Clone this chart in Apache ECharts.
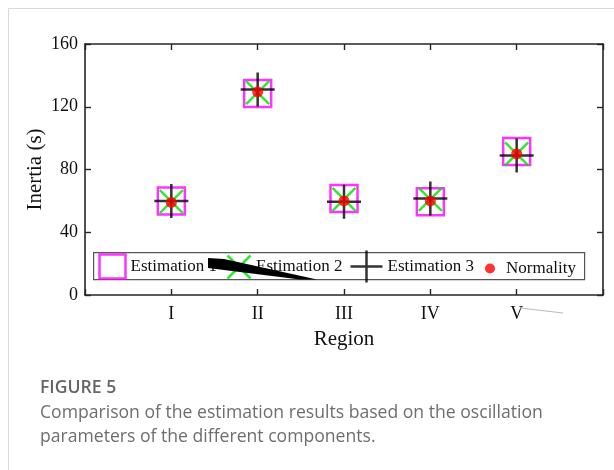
<!DOCTYPE html>
<html>
<head>
<meta charset="utf-8">
<script src="https://cdn.jsdelivr.net/npm/echarts@6/dist/echarts.min.js"></script>
<style>
  html, body { margin: 0; padding: 0; background: #fff; }
  #chart { width: 614px; height: 470px; }
</style>
</head>
<body>
<div id="chart"></div>
<script>
// data
const categories = ['I', 'II', 'III', 'IV', 'V'];
const estimation1 = [60, 128.5, 61.5, 59.5, 91.5];
const estimation2 = [59.5, 129, 61, 61, 90];
const estimation3 = [60, 131, 59.5, 61.5, 89];
const normality = [59, 129.5, 60, 60, 90];
const yMin = 0, yMax = 160, yStep = 40;

const serif = 'Liberation Serif';
const axisColor = '#262626';

function toPoints(arr) {
  return categories.map((c, i) => [i + 1, arr[i]]);
}

const crossPath = 'path://M0,0L10,10M10,0L0,10';
const plusPath = 'path://M5,0L5,10M0,5L10,5';

const chart = echarts.init(document.getElementById('chart'));

const boxAxis = {
  axisLine: { show: true, onZero: false, lineStyle: { color: axisColor, width: 1.6 } },
  axisTick: { show: true, inside: true, length: 6, lineStyle: { color: axisColor, width: 1.4 } },
  splitLine: { show: false },
};

const option = {
  animation: false,
  grid: { left: 85, top: 44, right: 11, bottom: 175 },
  xAxis: [
    Object.assign({
      type: 'value', min: 0, max: 6, interval: 1,
      name: 'Region', nameLocation: 'middle', nameGap: 34,
      nameTextStyle: { fontFamily: serif, fontSize: 21, color: '#111' },
      axisLabel: {
        margin: 10, fontFamily: serif, fontSize: 18, color: '#111',
        formatter: v => categories[v - 1] || ''
      }
    }, boxAxis),
    Object.assign({
      type: 'value', min: 0, max: 6, interval: 1, position: 'top',
      axisLabel: { show: false }
    }, boxAxis)
  ],
  yAxis: [
    Object.assign({
      type: 'value', min: yMin, max: yMax, interval: yStep,
      name: 'Inertia (s)', nameLocation: 'middle', nameGap: 39, nameMoveOverlap: false,
      nameTextStyle: { fontFamily: serif, fontSize: 21, color: '#111' },
      axisLabel: { margin: 7, fontFamily: serif, fontSize: 18, color: '#111' }
    }, boxAxis),
    Object.assign({
      type: 'value', min: yMin, max: yMax, interval: yStep, position: 'right',
      axisLabel: { show: false }
    }, boxAxis)
  ],
  legend: [
    {
      data: ['Estimation 1'], left: 97, top: 252, padding: 0,
      itemWidth: 26, itemHeight: 24, icon: 'rect',
      itemStyle: { color: 'none', borderColor: '#ff00ff', borderWidth: 2.5 },
      textStyle: { fontFamily: serif, fontSize: 17, color: '#111' }
    },
    {
      data: ['Estimation 2'], left: 225, top: 253, padding: 0,
      itemWidth: 24, itemHeight: 23, icon: crossPath,
      itemStyle: { color: 'none', borderColor: '#00e000', borderWidth: 2.5 },
      textStyle: { fontFamily: serif, fontSize: 17, color: '#111' }
    },
    {
      data: ['Estimation 3'], left: 348, top: 248, padding: 0,
      itemWidth: 32, itemHeight: 32, icon: plusPath,
      itemStyle: { color: 'none', borderColor: '#000', borderWidth: 2.5 },
      textStyle: { fontFamily: serif, fontSize: 17, color: '#111' }
    },
    {
      data: ['Normality'], left: 485, top: 260, padding: 0,
      itemWidth: 22, itemHeight: 10, icon: 'circle',
      itemStyle: { color: '#ff0000', borderWidth: 0 },
      textStyle: { fontFamily: serif, fontSize: 17, color: '#111' }
    }
  ],
  graphic: [
    // page card border
    { type: 'rect', left: 6, top: 6, shape: { width: 640, height: 500 },
      style: { fill: 'none', stroke: '#d9d9d9', lineWidth: 1 }, z: 0 },
    // legend box
    { type: 'rect', left: 93, top: 252, shape: { width: 491, height: 27 },
      style: { fill: '#fff', stroke: '#555', lineWidth: 1.2 }, z: 3 },
    // stray black wedge over the legend
    { type: 'polygon', shape: { points: [[208, 258], [224, 259], [317, 279.5], [300, 279.5], [208, 268]] },
      style: { fill: '#000' }, z: 10 },
    // faint grey stroke by label V
    { type: 'line', shape: { x1: 520, y1: 308, x2: 563, y2: 313 },
      style: { stroke: '#bbb', lineWidth: 1 }, z: 10 },
    // caption
    { type: 'text', left: 40, top: 379,
      style: { text: 'FIGURE 5', fontFamily: 'Open Sans', fontWeight: 600, fontSize: 17.6, fill: '#666' } },
    { type: 'text', left: 40, top: 404,
      style: { text: 'Comparison of the estimation results based on the oscillation', fontFamily: 'Open Sans', fontSize: 17.6, fill: '#6e6e6e' } },
    { type: 'text', left: 40, top: 428,
      style: { text: 'parameters of the different components.', fontFamily: 'Open Sans', fontSize: 17.6, fill: '#6e6e6e' } }
  ],
  series: [
    {
      name: 'Estimation 1', type: 'scatter', symbol: 'rect', symbolSize: 27,
      itemStyle: { color: 'rgba(0,0,0,0)', borderColor: '#ff00ff', borderWidth: 2.5 },
      data: toPoints(estimation1)
    },
    {
      name: 'Estimation 2', type: 'scatter', symbol: crossPath, symbolSize: 23,
      itemStyle: { color: 'rgba(0,0,0,0)', borderColor: '#00e000', borderWidth: 2.5 },
      data: toPoints(estimation2)
    },
    {
      name: 'Estimation 3', type: 'scatter', symbol: plusPath, symbolSize: 34,
      itemStyle: { color: 'rgba(0,0,0,0)', borderColor: '#000', borderWidth: 2.5 },
      data: toPoints(estimation3)
    },
    {
      name: 'Normality', type: 'scatter', symbol: 'circle', symbolSize: 11,
      itemStyle: { color: '#ff0000' },
      data: toPoints(normality)
    }
  ]
};

chart.setOption(option);
</script>
</body>
</html>
